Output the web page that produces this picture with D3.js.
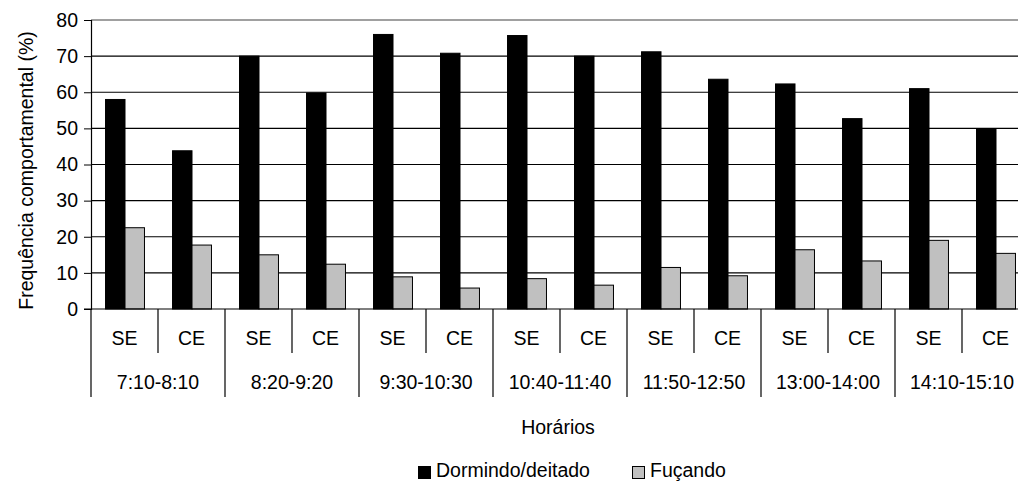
<!DOCTYPE html>
<html>
<head>
<meta charset="utf-8">
<script src="https://cdn.jsdelivr.net/npm/d3@7"></script>
<style>
  body { margin: 0; background: #fff; }
  text { font-family: "Liberation Sans", Arial, sans-serif; fill: #000; }
</style>
</head>
<body>
<svg id="chart"></svg>
<script>
const periods = ["7:10-8:10", "8:20-9:20", "9:30-10:30", "10:40-11:40", "11:50-12:50", "13:00-14:00", "14:10-15:10"];
const treatments = ["SE", "CE"];
const series = ["Dormindo/deitado", "Fuçando"];
const dormindo = [58.0, 43.8, 70.0, 59.8, 76.0, 70.8, 75.7, 70.0, 71.2, 63.6, 62.3, 52.7, 61.0, 49.7];
const fucando = [22.5, 17.7, 15.0, 12.4, 8.9, 5.8, 8.4, 6.6, 11.5, 9.2, 16.4, 13.3, 19.0, 15.4];
const yTicks = [0, 10, 20, 30, 40, 50, 60, 70, 80];

(function () {
    const width = 1018, height = 481;
    const left = 91, top = 20, bottom = 309;
    const fontSize = 19.5;

    const svg = d3.select("#chart")
        .attr("width", width)
        .attr("height", height);

    // one band per period x treatment pair
    const cats = [];
    periods.forEach(p => treatments.forEach(t => cats.push(p + "|" + t)));

    const step = 67;
    const x = d3.scaleBand()
        .domain(cats)
        .range([left, left + step * cats.length]);

    const xs = d3.scaleBand()
        .domain(series)
        .range([0, x.bandwidth()])
        .paddingOuter(0.72);

    const y = d3.scaleLinear()
        .domain([0, 80])
        .range([bottom, top]);

    const color = d3.scaleOrdinal()
        .domain(series)
        .range(["#000000", "#c0c0c0"]);

    // gridlines
    svg.append("g")
        .selectAll("line")
        .data(yTicks.filter(d => d > 0))
        .enter()
        .append("line")
        .attr("x1", left)
        .attr("x2", width)
        .attr("y1", d => y(d))
        .attr("y2", d => y(d))
        .attr("stroke", d => d === 80 ? "#808080" : "#000")
        .attr("stroke-width", d => d === 80 ? 1.6 : 1.1);

    // bars
    const rows = cats.map((c, i) => ({ cat: c, values: [dormindo[i], fucando[i]] }));
    const groups = svg.append("g")
        .selectAll("g")
        .data(rows)
        .enter()
        .append("g")
        .attr("transform", d => `translate(${x(d.cat)},0)`);

    groups.selectAll("rect")
        .data(d => d.values.map((v, j) => ({ key: series[j], v: v })))
        .enter()
        .append("rect")
        .attr("x", d => xs(d.key) + 0.5)
        .attr("width", xs.bandwidth())
        .attr("y", d => y(d.v))
        .attr("height", d => y(0) - y(d.v))
        .attr("fill", d => color(d.key))
        .attr("stroke", "#000")
        .attr("stroke-width", 1);

    // y axis
    const yAxis = svg.append("g")
        .attr("transform", `translate(${left},0)`)
        .call(d3.axisLeft(y).tickValues(yTicks).tickSize(7).tickPadding(6));
    yAxis.select(".domain").attr("stroke", "#000").attr("stroke-width", 1.2);
    yAxis.selectAll(".tick line").attr("stroke", "#000");
    yAxis.selectAll(".tick text")
        .style("font-size", fontSize + "px")
        .style("font-family", "'Liberation Sans', Arial, sans-serif")
        .attr("fill", "#000");

    // x baseline
    svg.append("line")
        .attr("x1", left - 7).attr("x2", width)
        .attr("y1", bottom).attr("y2", bottom)
        .attr("stroke", "#000").attr("stroke-width", 1.2);

    // category separators: short for treatments, long for periods
    const edges = d3.range(cats.length + 1);
    svg.append("g")
        .selectAll("line")
        .data(edges)
        .enter()
        .append("line")
        .attr("x1", i => left + i * x.step())
        .attr("x2", i => left + i * x.step())
        .attr("y1", bottom)
        .attr("y2", i => i % 2 === 0 ? 397 : 353)
        .attr("stroke", "#000")
        .attr("stroke-width", 1.2);

    // treatment labels
    svg.append("g")
        .selectAll("text")
        .data(cats)
        .enter()
        .append("text")
        .attr("x", d => x(d) + x.bandwidth() / 2)
        .attr("y", 338)
        .attr("dy", "0.35em")
        .attr("text-anchor", "middle")
        .style("font-size", fontSize + "px")
        .text(d => d.split("|")[1]);

    // period labels
    svg.append("g")
        .selectAll("text")
        .data(periods)
        .enter()
        .append("text")
        .attr("x", p => x(p + "|SE") + x.bandwidth())
        .attr("y", 382)
        .attr("dy", "0.35em")
        .attr("text-anchor", "middle")
        .style("font-size", fontSize + "px")
        .text(p => p);

    // axis titles
    svg.append("text")
        .attr("x", 558)
        .attr("y", 427)
        .attr("dy", "0.35em")
        .attr("text-anchor", "middle")
        .style("font-size", fontSize + "px")
        .text("Horários");

    svg.append("text")
        .attr("transform", `translate(26,${(top + bottom) / 2 + 6}) rotate(-90)`)
        .attr("dy", "0.35em")
        .attr("text-anchor", "middle")
        .style("font-size", fontSize + "px")
        .text("Frequência comportamental (%)");

    // legend
    const legendX = [418, 632];
    const legend = svg.append("g")
        .selectAll("g")
        .data(series)
        .enter()
        .append("g")
        .attr("transform", (d, i) => `translate(${legendX[i]},470)`);
    legend.append("rect")
        .attr("x", 0.5).attr("y", -3.5)
        .attr("width", 12).attr("height", 12)
        .attr("fill", d => color(d))
        .attr("stroke", "#000");
    legend.append("text")
        .attr("x", 18)
        .attr("dy", "0.35em")
        .style("font-size", fontSize + "px")
        .text(d => d);
})();
</script>
</body>
</html>
